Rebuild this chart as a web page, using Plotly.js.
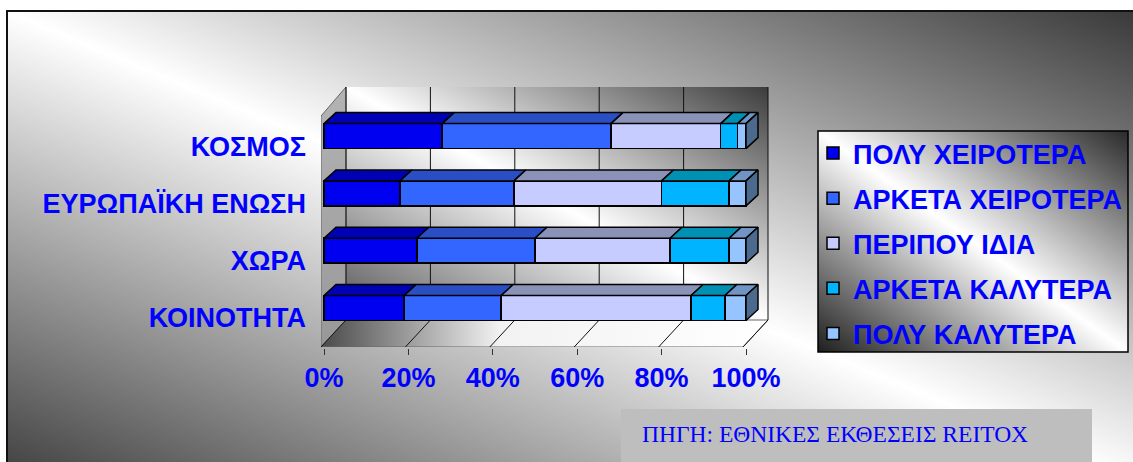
<!DOCTYPE html>
<html><head><meta charset="utf-8">
<script src="https://cdn.plot.ly/plotly-3.0.1.min.js"></script>
<style>
html,body{margin:0;padding:0;background:#fff;width:1133px;height:462px;overflow:hidden;}
#bg{position:absolute;left:6px;top:10px;width:1125px;height:470px;border-top:2px solid #111;border-left:2px solid #111;border-right:1px solid #777;background:linear-gradient(to top right,#3e3e3e 0%,#ffffff 50%,#3a3a3a 100%);}
#chart{position:absolute;left:0;top:0;width:1133px;height:462px;}
</style></head><body>
<div id="bg"></div><div id="chart"></div>
<script>
// ---- data ----
const categories = ['ΚΟΙΝΟΤΗΤΑ', 'ΧΩΡΑ', 'ΕΥΡΩΠΑΪΚΗ ΕΝΩΣΗ', 'ΚΟΣΜΟΣ'];
const seriesNames = ['ΠΟΛΥ ΧΕΙΡΟΤΕΡΑ', 'ΑΡΚΕΤΑ ΧΕΙΡΟΤΕΡΑ', 'ΠΕΡΙΠΟΥ ΙΔΙΑ', 'ΑΡΚΕΤΑ ΚΑΛΥΤΕΡΑ', 'ΠΟΛΥ ΚΑΛΥΤΕΡΑ'];
const polyXeirotera   = [19, 22, 18, 28];
const arketaXeirotera = [23, 28, 27, 40];
const peripouIdia     = [45, 32, 35, 26];
const arketaKalytera  = [8, 14, 16, 4];
const polyKalytera    = [5, 4, 4, 2];
const xTickValues = [0, 20, 40, 60, 80, 100];
const xTickLabels = ['0%', '20%', '40%', '60%', '80%', '100%'];
const sourceText = 'ΠΗΓΗ: ΕΘΝΙΚΕΣ ΕΚΘΕΣΕΙΣ REITOX';

const seriesValues = [polyXeirotera, arketaXeirotera, peripouIdia, arketaKalytera, polyKalytera];

// ---- styles / geometry (pixels) ----
const frontColors = ['#0000f0', '#3366ff', '#c6ccff', '#00b4ff', '#96c4ff'];
const topColors   = ['#0000b4', '#2a4fc4', '#8a92b8', '#0090b4', '#7094c4'];
const sideColor = '#4c6a8e';
const FONT = 'Liberation Sans, Arial, sans-serif';
const BLUE = '#0000ff';

const W = 1133, H = 462;
const L = 321, R = 770, T = 85, B = 348;       // plot area
const X0PX = 324, PXU = 4.22;                   // px of 0% and px per 1%
const Y0PX = 308, PYU = 57.3;                   // px of first category and px per category
const fx = p => (p - X0PX) / PXU;
const fy = p => (Y0PX - p) / PYU;
const BAR_W = 25 / PYU;
const DXU = 12 / PXU, DYU = 11 / PYU;           // bar depth
const px2paperX = p => (p - L) / (R - L);
const px2paperY = p => (B - p) / (B - T);

const yIdx = categories.map((c, i) => i);
const traces = [];

// y-axis boundary ticks on the front edge
const tx = [], ty = [];
for (let i = 0; i < categories.length - 1; i++) {
  tx.push(fx(316), fx(321), null);
  const yy = i + 0.5 - 4 / PYU;
  ty.push(yy, yy, null);
}
traces.push({type: 'scatter', mode: 'lines', x: tx, y: ty, line: {color: '#333', width: 1},
  showlegend: false, hoverinfo: 'skip'});

// stacked bars
seriesValues.forEach((vals, i) => {
  traces.push({
    type: 'bar', orientation: 'h', name: seriesNames[i], x: vals, y: yIdx,
    width: BAR_W, legendgroup: 'g' + i,
    marker: {color: frontColors[i], line: {color: '#000', width: 1.5}},
    hoverinfo: 'skip'
  });
});

// 3D top faces and right side faces, computed from the data
const cum = categories.map(() => 0);
seriesValues.forEach((vals, i) => {
  const xs = [], ys = [];
  vals.forEach((v, c) => {
    const a = cum[c], b = cum[c] + v, yt = c + BAR_W / 2;
    xs.push(a, b, b + DXU, a + DXU, a, null);
    ys.push(yt, yt, yt + DYU, yt + DYU, yt, null);
    cum[c] = b;
  });
  traces.push({type: 'scatter', mode: 'lines', x: xs, y: ys, fill: 'toself',
    fillcolor: topColors[i], line: {color: '#000', width: 1.5}, showlegend: false, hoverinfo: 'skip'});
});
const sx = [], sy = [];
cum.forEach((end, c) => {
  const y0 = c - BAR_W / 2, y1 = c + BAR_W / 2;
  sx.push(end, end + DXU, end + DXU, end, end, null);
  sy.push(y0, y0 + DYU, y1 + DYU, y1, y0, null);
});
traces.push({type: 'scatter', mode: 'lines', x: sx, y: sy, fill: 'toself',
  fillcolor: sideColor, line: {color: '#000', width: 1.5}, showlegend: false, hoverinfo: 'skip'});

function svgUri(s) { return 'data:image/svg+xml;utf8,' + encodeURIComponent(s); }
function gradSvg(c0, c1) {
  return svgUri(
    '<svg xmlns="http://www.w3.org/2000/svg" width="100" height="100" viewBox="0 0 100 100" preserveAspectRatio="none">' +
    '<defs><linearGradient id="g" x1="0" y1="1" x2="1" y2="0">' +
    '<stop offset="0" stop-color="' + c0 + '"/><stop offset="0.5" stop-color="#ffffff"/>' +
    '<stop offset="1" stop-color="' + c1 + '"/></linearGradient></defs>' +
    '<rect width="100" height="100" fill="url(#g)"/></svg>');
}
// 3D box walls (back wall, left wall, floor) as one background picture, 447x260 px
const boxSvg = svgUri(
  '<svg xmlns="http://www.w3.org/2000/svg" width="447" height="260" viewBox="0 0 447 260" preserveAspectRatio="none">' +
  '<defs>' +
  '<linearGradient id="bw" x1="0" y1="1" x2="1" y2="0"><stop offset="0" stop-color="#555"/><stop offset="0.5" stop-color="#fff"/><stop offset="1" stop-color="#3c3c3c"/></linearGradient>' +
  '<linearGradient id="lw" x1="0" y1="0" x2="0" y2="1"><stop offset="0" stop-color="#b4b4b4"/><stop offset="1" stop-color="#989898"/></linearGradient>' +
  '<linearGradient id="fl" x1="0" y1="0" x2="1" y2="0"><stop offset="0" stop-color="#4a4a4a"/><stop offset="0.4" stop-color="#f2f2f2"/><stop offset="1" stop-color="#fff"/></linearGradient>' +
  '</defs>' +
  '<rect x="25" y="0" width="422" height="233" fill="url(#bw)"/>' +
  '<polygon points="0,29 25,0 25,233 0,260" fill="url(#lw)" stroke="#666" stroke-width="1"/>' +
  '<polygon points="0,260 422,260 447,233 25,233" fill="url(#fl)" stroke="#666" stroke-width="1"/>' +
  '</svg>');

// grid lines on back wall and floor (between walls and bars)
const gridShapes = [];
xTickValues.forEach(v => {
  const back = v + fx(346) - fx(X0PX), front = v + fx(321) - fx(X0PX);
  gridShapes.push({type: 'line', xref: 'x', yref: 'y', x0: back, x1: back, y0: fy(87), y1: fy(320),
    line: {color: '#111', width: 1}, layer: 'between'});
  gridShapes.push({type: 'line', xref: 'x', yref: 'y', x0: front, x1: back, y0: fy(347), y1: fy(320),
    line: {color: '#111', width: 1}, layer: 'between'});
});

const layout = {
  width: W, height: H,
  margin: {l: L, r: W - R, t: T, b: H - B, pad: 0},
  paper_bgcolor: 'rgba(0,0,0,0)', plot_bgcolor: 'rgba(0,0,0,0)',
  barmode: 'stack', barnorm: 'percent',
  showlegend: true,
  xaxis: {
    range: [fx(L), fx(R)], tickmode: 'array', tickvals: xTickValues, ticktext: xTickLabels,
    ticks: 'outside', ticklen: 6, tickcolor: '#333', showgrid: false, zeroline: false, showline: false,
    ticklabelstandoff: 0,
    tickfont: {family: FONT, size: 27, color: BLUE, weight: 700}
  },
  yaxis: {
    range: [fy(B), fy(T)], tickmode: 'array', tickvals: yIdx, ticktext: categories,
    ticks: '', showgrid: false, zeroline: false, showline: false,
    ticklabelshift: 10, ticklabelstandoff: 14,
    tickfont: {family: FONT, size: 27, color: BLUE, weight: 700}
  },
  legend: {
    xref: 'container', yref: 'container',
    x: 813 / W, xanchor: 'left', y: 1 - 129 / H, yanchor: 'top',
    bgcolor: 'rgba(0,0,0,0)', borderwidth: 0, traceorder: 'grouped', tracegroupgap: 7,
    font: {family: FONT, size: 27, color: BLUE, weight: 700}
  },
  images: [
    {source: boxSvg, xref: 'x', yref: 'y', x: fx(321), y: fy(87),
     sizex: 447 / PXU, sizey: 260 / PYU, xanchor: 'left', yanchor: 'top',
     sizing: 'stretch', layer: 'below'},
    {source: gradSvg('#1e1e1e', '#2a2a2a'), xref: 'paper', yref: 'paper',
     x: px2paperX(818), y: px2paperY(131), sizex: (1128 - 818) / (R - L), sizey: (352 - 131) / (B - T),
     xanchor: 'left', yanchor: 'top', sizing: 'stretch', layer: 'below'}
  ],
  shapes: gridShapes.concat([
    {type: 'rect', xref: 'paper', yref: 'paper', x0: px2paperX(818), x1: px2paperX(1128),
     y0: px2paperY(352), y1: px2paperY(131), line: {color: '#000', width: 1.5}, fillcolor: 'rgba(0,0,0,0)'},
    {type: 'rect', xref: 'paper', yref: 'paper', x0: px2paperX(621), x1: px2paperX(1092),
     y0: px2paperY(480), y1: px2paperY(409), line: {width: 0}, fillcolor: '#bebebe', layer: 'below'}
  ]),
  annotations: [
    {text: sourceText, xref: 'paper', yref: 'paper', x: px2paperX(640), y: px2paperY(434),
     xanchor: 'left', yanchor: 'middle', showarrow: false,
     font: {family: 'Liberation Serif, Times New Roman, serif', size: 23.5, color: BLUE}}
  ]
};

Plotly.newPlot('chart', traces, layout, {staticPlot: true, displayModeBar: false});
</script>
</body></html>
